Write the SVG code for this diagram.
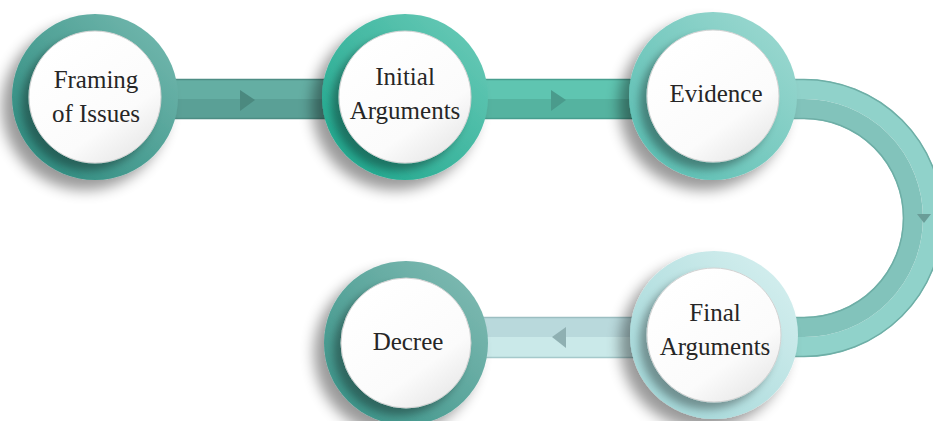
<svg xmlns="http://www.w3.org/2000/svg" width="933" height="421" viewBox="0 0 933 421">
  <defs>
    <style>
      .label { font-family: "Liberation Serif", "Times New Roman", serif; font-size: 25px; fill: #262626; text-anchor: middle; }
      .face { fill: url(#faceGrad); stroke: #d2d2d2; stroke-width: 1; filter: url(#faceShadow); }
      .ring { filter: url(#ringShadow); }
      .edge { fill: none; stroke-width: 1.5; }
    </style>
    <filter id="ringShadow" x="-40%" y="-40%" width="180%" height="180%">
      <feGaussianBlur in="SourceAlpha" stdDeviation="7"/>
      <feOffset dx="-10" dy="10" result="off"/>
      <feComponentTransfer><feFuncA type="linear" slope="0.4"/></feComponentTransfer>
      <feMerge><feMergeNode/><feMergeNode in="SourceGraphic"/></feMerge>
    </filter>
    <filter id="faceShadow" x="-30%" y="-30%" width="160%" height="160%">
      <feGaussianBlur in="SourceAlpha" stdDeviation="4"/>
      <feOffset dx="-7" dy="7"/>
      <feComponentTransfer><feFuncA type="linear" slope="0.34"/></feComponentTransfer>
      <feMerge><feMergeNode/><feMergeNode in="SourceGraphic"/></feMerge>
    </filter>
    <linearGradient id="faceGrad" x1="0.2" y1="0.1" x2="0.8" y2="0.95">
      <stop offset="0" stop-color="#ffffff"/>
      <stop offset="0.7" stop-color="#fbfbfb"/>
      <stop offset="1" stop-color="#e9e9e9"/>
    </linearGradient>
    <linearGradient id="ring1" x1="0.9" y1="0.1" x2="0.1" y2="0.9">
      <stop offset="0" stop-color="#70b6ac"/>
      <stop offset="1" stop-color="#2f8c80"/>
    </linearGradient>
    <linearGradient id="ring2" x1="0.9" y1="0.1" x2="0.1" y2="0.9">
      <stop offset="0" stop-color="#65c8b5"/>
      <stop offset="1" stop-color="#20a88e"/>
    </linearGradient>
    <linearGradient id="ring3" x1="0.9" y1="0.1" x2="0.1" y2="0.9">
      <stop offset="0" stop-color="#99d7cf"/>
      <stop offset="1" stop-color="#5cbfb3"/>
    </linearGradient>
    <linearGradient id="ring4" x1="0.9" y1="0.1" x2="0.1" y2="0.9">
      <stop offset="0" stop-color="#d3eeee"/>
      <stop offset="1" stop-color="#a3d7d8"/>
    </linearGradient>
    <linearGradient id="ring5" x1="0.9" y1="0.1" x2="0.1" y2="0.9">
      <stop offset="0" stop-color="#7db9b1"/>
      <stop offset="1" stop-color="#3c9489"/>
    </linearGradient>
  </defs>

  <!-- connectors: two-tone bands with direction arrows -->
  <g id="connectors">
    <!-- Framing of Issues -> Initial Arguments -->
    <rect x="95" y="79" width="310" height="20" fill="#64aea3"/>
    <rect x="95" y="99" width="310" height="20" fill="#5aa096"/>
    <line class="edge" x1="95" y1="79.5" x2="405" y2="79.5" stroke="#4d8d84"/>
    <line class="edge" x1="95" y1="118.5" x2="405" y2="118.5" stroke="#4d8d84"/>
    <polygon points="240,90 255,100 240,111" fill="#4b897f"/>

    <!-- Initial Arguments -> Evidence -->
    <rect x="405" y="79" width="308" height="20" fill="#5fc5b1"/>
    <rect x="405" y="99" width="308" height="20" fill="#55b3a0"/>
    <line class="edge" x1="405" y1="79.5" x2="713" y2="79.5" stroke="#479e8e"/>
    <line class="edge" x1="405" y1="118.5" x2="713" y2="118.5" stroke="#479e8e"/>
    <polygon points="551,90 566,100 551,111" fill="#4a9b8c"/>

    <!-- Evidence -> Final Arguments (half-loop) -->
    <path d="M713 89 L804 89 A129 129 0 0 1 804 347 L714 347" fill="none" stroke="#90d2ca" stroke-width="20"/>
    <path d="M713 109 L804 109 A109 109 0 0 1 804 327 L714 327" fill="none" stroke="#82c3bb" stroke-width="20"/>
    <path class="edge" d="M713 79.5 L804 79.5 A138.5 138.5 0 0 1 804 356.5 L714 356.5" stroke="#6eaea6"/>
    <path class="edge" d="M713 118.5 L804 118.5 A99.5 99.5 0 0 1 804 317.5 L714 317.5" stroke="#6eaea6"/>
    <polygon points="917,214 931,214 924,223" fill="#6a9d98"/>

    <!-- Final Arguments -> Decree -->
    <rect x="406" y="317" width="308" height="20" fill="#b9d9dc"/>
    <rect x="406" y="337" width="308" height="21" fill="#cae9e9"/>
    <line class="edge" x1="406" y1="317.5" x2="714" y2="317.5" stroke="#9cbec1"/>
    <line class="edge" x1="406" y1="357.5" x2="714" y2="357.5" stroke="#a5c9cb"/>
    <polygon points="566,327 552,337 566,348" fill="#8fb0b2"/>
  </g>

  <g id="node-framing" transform="translate(95,97)">
    <circle class="ring" r="83" fill="url(#ring1)"/>
    <circle class="face" r="66"/>
    <text class="label" x="1" y="-9">Framing</text>
    <text class="label" x="1" y="25">of Issues</text>
  </g>

  <g id="node-initial" transform="translate(405,97)">
    <circle class="ring" r="83" fill="url(#ring2)"/>
    <circle class="face" r="66"/>
    <text class="label" x="0" y="-12">Initial</text>
    <text class="label" x="0" y="22">Arguments</text>
  </g>

  <g id="node-evidence" transform="translate(713,96)">
    <circle class="ring" r="84" fill="url(#ring3)"/>
    <circle class="face" r="66"/>
    <text class="label" x="3" y="6">Evidence</text>
  </g>

  <g id="node-final" transform="translate(714,335)">
    <circle class="ring" r="84" fill="url(#ring4)"/>
    <circle class="face" r="67"/>
    <text class="label" x="1" y="-14">Final</text>
    <text class="label" x="1" y="20">Arguments</text>
  </g>

  <g id="node-decree" transform="translate(406,343)">
    <circle class="ring" r="82" fill="url(#ring5)"/>
    <circle class="face" r="65"/>
    <text class="label" x="2" y="7">Decree</text>
  </g>
</svg>
